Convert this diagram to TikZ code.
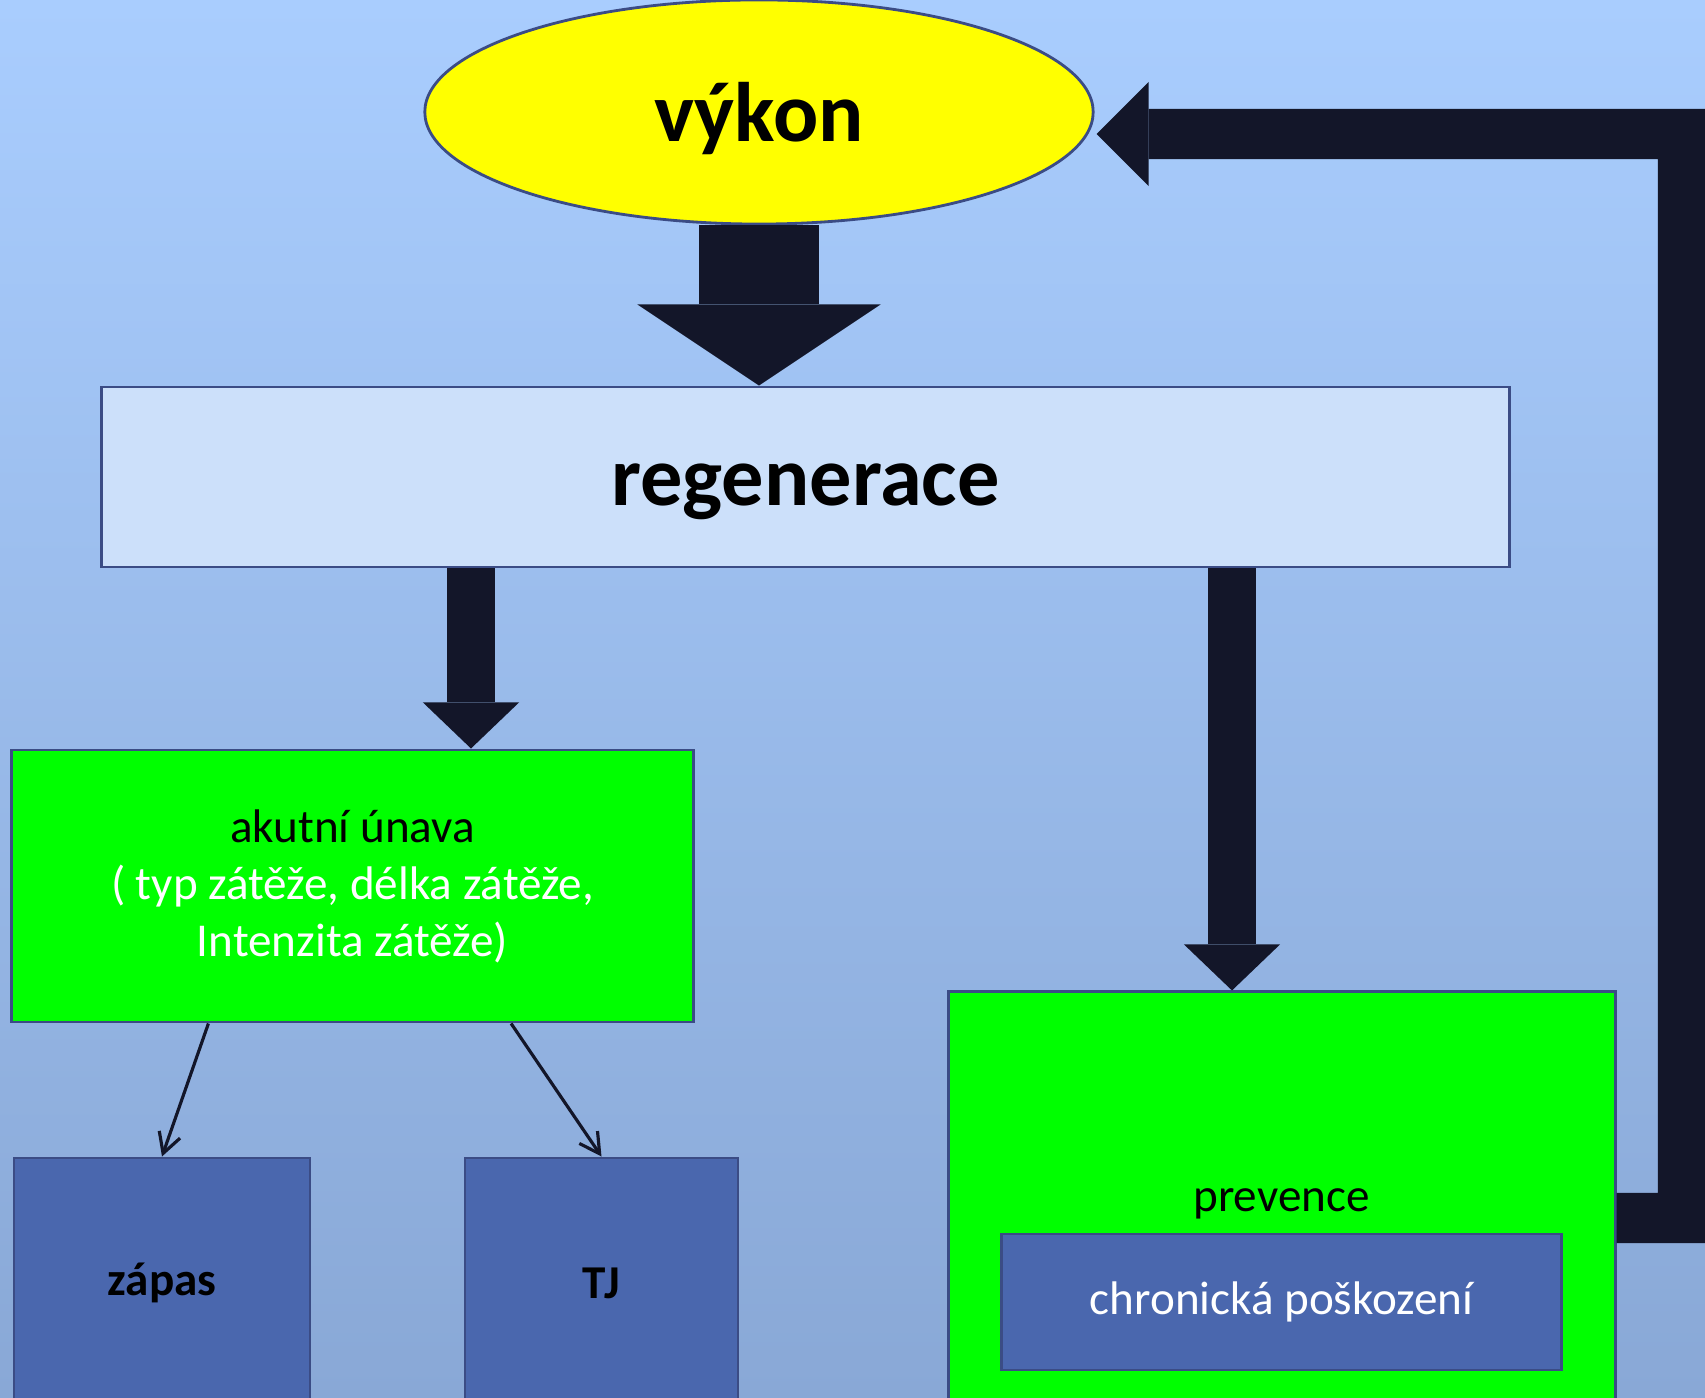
\documentclass[tikz,border=0pt]{standalone}
\usepackage{fontspec}
\setmainfont{Carlito}
\usetikzlibrary{arrows.meta,positioning,shapes.geometric,calc}
\definecolor{bgtop}{RGB}{169,205,254}
\definecolor{bgbot}{RGB}{137,168,214}
\definecolor{arrowdark}{RGB}{19,22,41}
\definecolor{boxline}{RGB}{59,76,133}
\definecolor{regenfill}{RGB}{204,224,250}
\definecolor{boxblue}{RGB}{74,103,174}
\definecolor{boxgreen}{RGB}{0,255,0}
\definecolor{ovalyellow}{RGB}{255,255,0}
\begin{document}
\begin{tikzpicture}[
  x=0.01cm, y=-0.01cm,
  font=\fontsize{13.4}{16.2}\selectfont,
  box/.style={draw=boxline, line width=0.8pt, inner sep=0pt, align=center},
  bluebox/.style={box, fill=boxblue},
  greenbox/.style={box, fill=boxgreen},
  big/.style={font=\fontsize{24}{28}\selectfont\bfseries},
  fatarr/.style n args={3}{draw=arrowdark, line width=#1, -{Triangle[length=#2, width=#3, line width=0pt]}},
  thinarr/.style={draw=arrowdark, line width=0.9pt, -{Straight Barb[length=2mm, width=2.2mm]}}
]
\fill[top color=bgtop, bottom color=bgbot] (0,0) rectangle (1705,1398);
\useasboundingbox (0,0) rectangle (1705,1398);

\node[box, ellipse, fill=ovalyellow, minimum width=6.68cm, minimum height=2.24cm, big, text height=0.77cm, text depth=0.18cm] (vykon) at (759,112) {výkon};
\node[box, fill=regenfill, minimum width=14.07cm, minimum height=1.8cm, big, text height=0.75cm, text depth=0.18cm] (regen) at (805.5,477) {regenerace};
\node[greenbox, minimum width=6.81cm, minimum height=2.72cm] (akutni) at (352.5,886)
  {akutní únava\\\textcolor{white}{( typ zátěže, délka zátěže,}\\\textcolor{white}{Intenzita zátěže)}};
\node[bluebox, minimum width=2.96cm, minimum height=2.5cm, font=\fontsize{13.4}{16.2}\selectfont\bfseries] (zapas) at (162,1283) {zápas};
\node[bluebox, minimum width=2.73cm, minimum height=2.5cm, font=\fontsize{13.4}{16.2}\selectfont\bfseries] (tj) at (601.5,1283) {TJ};
\node[greenbox, minimum width=6.66cm, minimum height=4.18cm] (prev) at (1282,1201) {};
\node[bluebox, minimum width=5.59cm, minimum height=1.36cm, text=white] (chron) at (1281.5,1302) {chronická poškození};
\node[inner sep=0pt, above=0.13cm of chron] (prevlbl) {prevence};

% thick arrows
\draw[fatarr={1.2cm}{0.81cm}{2.43cm}] (vykon.south) -- (vykon.south |- regen.north);
\coordinate (tipL) at ($(akutni.north)+(118.5,0)$);
\draw[fatarr={0.48cm}{0.46cm}{0.96cm}] (regen.south -| tipL) -- (tipL);
\coordinate (tipR) at ($(prev.north)+(-50,0)$);
\draw[fatarr={0.47cm}{0.46cm}{0.96cm}] (regen.south -| tipR) -- (tipR);
\coordinate (fbtip) at ([xshift=0.02cm, yshift=-0.22cm]vykon.east);
\draw[fatarr={0.5cm}{0.52cm}{1.04cm}, line join=miter] ([yshift=-0.17cm]prev.east) -| (1683,134) -- (fbtip);

% thin arrows
\draw[thinarr] ([xshift=-1.44cm]akutni.south) -- (zapas.north);
\draw[thinarr] ([xshift=1.585cm]akutni.south) -- (tj.north);
\end{tikzpicture}
\end{document}
